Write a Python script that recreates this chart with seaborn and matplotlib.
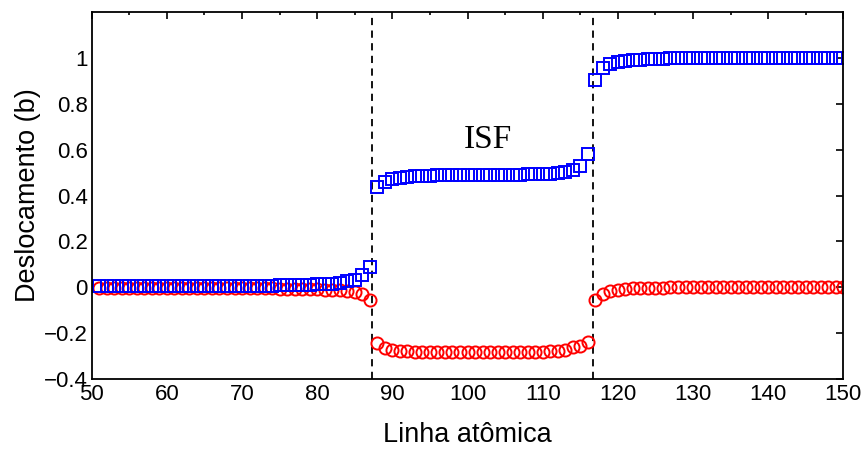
import numpy as np
import pandas as pd
import matplotlib
matplotlib.use("Agg")
import matplotlib.pyplot as plt
import seaborn as sns
from matplotlib.ticker import MultipleLocator

# ---- data ----
x_left = list(range(51, 88))      # 51..87
x_mid = list(range(88, 117))      # 88..116
x_right = list(range(117, 151))   # 117..150

blue_left = [0.005] * 20 + [0.006, 0.006, 0.007, 0.007, 0.008, 0.008, 0.009, 0.010,
                            0.011, 0.012, 0.013, 0.016, 0.019, 0.025, 0.033, 0.052, 0.090]
red_left = [-0.004] * 20 + [-0.004, -0.005, -0.005, -0.005, -0.006, -0.006, -0.007, -0.007,
                             -0.008, -0.009, -0.010, -0.012, -0.014, -0.018, -0.022, -0.030, -0.055]

blue_mid = [0.436, 0.461, 0.471, 0.477, 0.481, 0.484, 0.486, 0.487, 0.488, 0.489,
            0.490, 0.490, 0.490, 0.490, 0.490, 0.490, 0.490, 0.491, 0.491, 0.491,
            0.492, 0.493, 0.494, 0.496, 0.499, 0.504, 0.512, 0.527, 0.583]
red_mid = [-0.243, -0.264, -0.273, -0.277, -0.280, -0.281, -0.282, -0.283, -0.283, -0.283,
           -0.283, -0.283, -0.283, -0.283, -0.283, -0.283, -0.283, -0.283, -0.283, -0.283,
           -0.283, -0.283, -0.282, -0.280, -0.277, -0.272, -0.263, -0.255, -0.238]

blue_right = [0.905, 0.956, 0.975, 0.982, 0.988, 0.991, 0.993, 0.995, 0.996, 0.997,
              0.998, 0.998, 0.999, 0.999] + [1.0] * 20
red_right = [-0.057, -0.028, -0.016, -0.010, -0.007, -0.005, -0.004, -0.003, -0.002, -0.002,
             -0.001, -0.001] + [0.0] * 22

boundaries = [87.25, 116.75]
xticks = list(range(50, 151, 10))
yticks = [-0.4, -0.2, 0, 0.2, 0.4, 0.6, 0.8, 1]
ytick_labels = ["\u22120.4", "\u22120.2", "0", "0.2", "0.4", "0.6", "0.8", "1"]

x_all = x_left + x_mid + x_right
df = pd.DataFrame({
    "x": x_all + x_all,
    "y": red_left + red_mid + red_right + blue_left + blue_mid + blue_right,
    "s": ["red"] * len(x_all) + ["blue"] * len(x_all),
})

# ---- plot ----
sns.set_style("white")
plt.rcParams["font.family"] = ["Liberation Sans", "DejaVu Sans"]
plt.rcParams["text.color"] = "black"
plt.rcParams["axes.labelcolor"] = "black"

fig = plt.figure(figsize=(8.65, 4.5), dpi=100)
ax = fig.add_axes([0.106, 0.158, 0.869, 0.815])

sns.lineplot(data=df[df.s == "red"], x="x", y="y", ax=ax, marker="o", linestyle="none",
             markerfacecolor="none", markeredgecolor="#ff0000", markeredgewidth=1.4,
             markersize=8.7, estimator=None, sort=False)
sns.lineplot(data=df[df.s == "blue"], x="x", y="y", ax=ax, marker="s", linestyle="none",
             markerfacecolor="none", markeredgecolor="#0000ff", markeredgewidth=1.4,
             markersize=8, estimator=None, sort=False)

for b in boundaries:
    ax.axvline(b, color="black", lw=1.3, dashes=(4, 3), zorder=1)

ax.text(102.7, 0.645, "ISF", family="Liberation Serif", fontsize=24, color="black",
        ha="center", va="center")

ax.set_xlim(50, 150)
ax.set_ylim(-0.4, 1.2)
ax.set_xticks(xticks)
ax.set_xticklabels([str(t) for t in xticks])
ax.set_yticks(yticks)
ax.set_yticklabels(ytick_labels)
ax.xaxis.set_minor_locator(MultipleLocator(5))
ax.tick_params(which="both", direction="in", top=True, right=True, labelsize=16,
               width=1.2, color="black", labelcolor="black")
ax.tick_params(which="major", length=5)
ax.tick_params(axis="x", which="major", pad=4)
ax.tick_params(axis="y", which="major", pad=3)
ax.tick_params(which="minor", length=2.5)
for sp in ax.spines.values():
    sp.set_color("black")
    sp.set_linewidth(1.3)

ax.set_xlabel("Linha atômica", fontsize=19.5, labelpad=12)
ax.set_ylabel("Deslocamento (b)", fontsize=19.5, labelpad=2)

fig.savefig("out.png", dpi=100)
